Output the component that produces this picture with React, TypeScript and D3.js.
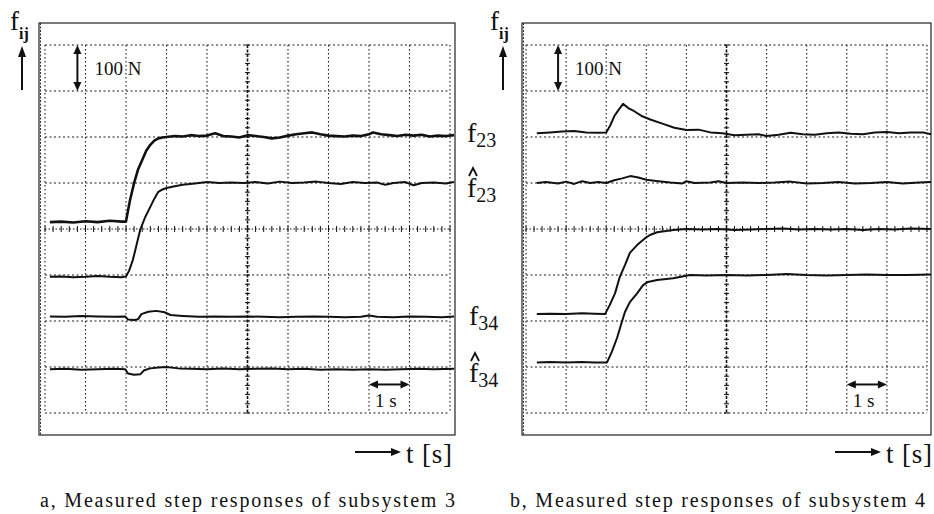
import React from 'react';
import * as d3 from 'd3';

// measured traces, [time in divisions, value in divisions]
const leftF23: [number, number][] = [
  [0.12, 4.15], [0.4, 4.16], [0.7, 4.14], [1.0, 4.17], [1.3, 4.15], [1.6, 4.18], [1.9, 4.16], [2.0, 4.16],
  [2.05, 4.4], [2.1, 4.63], [2.2, 5.0], [2.3, 5.3], [2.4, 5.5], [2.5, 5.7], [2.6, 5.83], [2.7, 5.92],
  [2.8, 5.97], [2.9, 5.99], [3.0, 6.0], [3.2, 6.02], [3.4, 6.01], [3.6, 6.04], [3.8, 6.02], [4.0, 6.03],
  [4.2, 6.08], [4.4, 6.02], [4.6, 6.01], [4.8, 5.99], [5.0, 6.04], [5.2, 6.02], [5.4, 6.0], [5.6, 5.97],
  [5.8, 5.99], [6.0, 6.03], [6.2, 6.06], [6.4, 6.08], [6.6, 6.1], [6.8, 6.06], [7.0, 6.03], [7.2, 6.02],
  [7.4, 6.01], [7.6, 6.03], [7.8, 6.02], [8.0, 6.06], [8.1, 6.1], [8.3, 6.06], [8.5, 6.04], [8.7, 6.02],
  [8.9, 6.05], [9.1, 6.03], [9.3, 6.05], [9.5, 6.01], [9.7, 6.03], [9.9, 6.02], [10.1, 6.04],
];
const leftF23Hat: [number, number][] = [
  [0.12, 2.96], [0.4, 2.97], [0.7, 2.95], [1.0, 2.96], [1.3, 2.98], [1.6, 2.96], [1.9, 2.95], [2.0, 2.97],
  [2.08, 3.1], [2.17, 3.33], [2.26, 3.65], [2.35, 3.98], [2.47, 4.25], [2.6, 4.48], [2.7, 4.66], [2.79, 4.8],
  [2.9, 4.86], [3.0, 4.89], [3.2, 4.93], [3.4, 4.96], [3.7, 4.99], [4.0, 5.02], [4.3, 5.0], [4.6, 5.01],
  [4.9, 5.0], [5.2, 5.02], [5.5, 4.99], [5.8, 5.03], [6.1, 5.0], [6.4, 5.01], [6.7, 5.03], [7.0, 5.0],
  [7.3, 4.98], [7.6, 5.02], [7.9, 5.0], [8.2, 5.01], [8.4, 4.96], [8.6, 5.0], [8.9, 5.02], [9.1, 4.95],
  [9.3, 5.0], [9.6, 5.01], [9.9, 4.99], [10.1, 5.02],
];
const leftF34: [number, number][] = [
  [0.12, 2.1], [0.5, 2.09], [0.9, 2.11], [1.3, 2.1], [1.7, 2.09], [1.98, 2.1], [2.05, 2.03], [2.2, 2.02],
  [2.3, 2.04], [2.38, 2.15], [2.55, 2.2], [2.75, 2.22], [2.95, 2.19], [3.1, 2.13], [3.4, 2.11], [3.8, 2.09],
  [4.2, 2.1], [4.6, 2.09], [5.0, 2.1], [5.4, 2.09], [5.8, 2.08], [6.2, 2.09], [6.6, 2.1], [7.0, 2.09],
  [7.4, 2.08], [7.8, 2.09], [8.0, 2.12], [8.2, 2.09], [8.6, 2.08], [9.0, 2.1], [9.4, 2.09], [9.8, 2.08],
  [10.1, 2.1],
];
const leftF34Hat: [number, number][] = [
  [0.12, 0.95], [0.5, 0.96], [0.9, 0.94], [1.3, 0.95], [1.7, 0.96], [1.98, 0.95], [2.05, 0.86], [2.2, 0.83],
  [2.35, 0.84], [2.45, 0.93], [2.6, 0.97], [2.8, 0.99], [3.0, 1.0], [3.3, 0.97], [3.6, 0.96], [4.0, 0.95],
  [4.4, 0.97], [4.8, 0.95], [5.2, 0.96], [5.6, 0.97], [6.0, 0.95], [6.4, 0.96], [6.8, 0.94], [7.2, 0.95],
  [7.6, 0.94], [8.0, 0.95], [8.4, 0.94], [8.8, 0.95], [9.2, 0.96], [9.6, 0.95], [10.1, 0.96],
];

const rightF23: [number, number][] = [
  [0.27, 6.08], [0.6, 6.1], [0.9, 6.12], [1.2, 6.13], [1.5, 6.1], [1.8, 6.09], [2.0, 6.1], [2.1, 6.25],
  [2.2, 6.45], [2.3, 6.58], [2.42, 6.72], [2.55, 6.63], [2.7, 6.56], [2.9, 6.45], [3.1, 6.38], [3.4, 6.29],
  [3.7, 6.2], [4.0, 6.15], [4.3, 6.16], [4.6, 6.1], [4.9, 6.08], [5.2, 6.04], [5.5, 6.05], [5.8, 6.06],
  [6.0, 6.02], [6.3, 6.05], [6.6, 6.09], [6.9, 6.06], [7.2, 6.05], [7.5, 6.08], [7.8, 6.1], [8.1, 6.07],
  [8.4, 6.06], [8.7, 6.1], [9.0, 6.11], [9.3, 6.08], [9.6, 6.1], [9.9, 6.1], [10.1, 6.06],
];
const rightF23Hat: [number, number][] = [
  [0.27, 5.0], [0.5, 5.02], [0.8, 4.99], [1.0, 5.03], [1.2, 4.98], [1.4, 5.04], [1.6, 5.0], [1.8, 5.02],
  [2.0, 5.0], [2.2, 5.06], [2.4, 5.1], [2.6, 5.15], [2.8, 5.12], [3.0, 5.07], [3.3, 5.04], [3.6, 5.01],
  [3.9, 4.99], [4.0, 5.04], [4.2, 5.0], [4.6, 5.01], [4.8, 5.04], [5.0, 5.0], [5.4, 5.01], [5.8, 5.0],
  [6.2, 5.01], [6.6, 5.03], [7.0, 4.99], [7.4, 5.0], [7.8, 5.02], [8.2, 4.99], [8.6, 5.0], [9.0, 5.02],
  [9.4, 4.99], [9.8, 5.01], [10.1, 5.02],
];
const rightF34: [number, number][] = [
  [0.27, 2.15], [0.6, 2.16], [1.0, 2.15], [1.4, 2.17], [1.7, 2.16], [1.97, 2.15], [2.09, 2.35], [2.22, 2.6],
  [2.34, 2.96], [2.47, 3.22], [2.59, 3.48], [2.77, 3.65], [2.97, 3.8], [3.09, 3.87], [3.27, 3.93], [3.67, 3.98],
  [4.0, 4.0], [4.4, 3.99], [4.8, 4.0], [5.2, 3.98], [5.6, 3.99], [6.0, 4.0], [6.4, 4.01], [6.8, 3.99],
  [7.2, 4.0], [7.6, 3.99], [8.0, 4.0], [8.4, 3.98], [8.8, 4.0], [9.2, 3.99], [9.6, 4.01], [10.1, 4.0],
];
const rightF34Hat: [number, number][] = [
  [0.27, 1.1], [0.6, 1.11], [1.0, 1.1], [1.4, 1.11], [1.7, 1.1], [2.02, 1.1], [2.14, 1.33], [2.27, 1.63],
  [2.39, 1.98], [2.47, 2.2], [2.59, 2.41], [2.77, 2.6], [2.92, 2.78], [3.04, 2.85], [3.27, 2.89], [3.67, 2.93],
  [4.09, 3.0], [4.5, 2.99], [5.0, 3.0], [5.5, 2.99], [6.0, 3.0], [6.5, 3.02], [7.0, 3.0], [7.5, 2.99],
  [8.0, 3.0], [8.5, 3.01], [9.0, 3.0], [9.5, 3.0], [10.1, 3.01],
];

const captions = ['a, Measured step responses of subsystem 3', 'b, Measured step responses of subsystem 4'];
const xDivisions = d3.range(0, 11);
const yDivisions = d3.range(0, 9);

const FONT = '"Liberation Serif", "Times New Roman", serif';
const GRID_TOP = 45;
const GRID_BOTTOM = 413;

const panels = [
  { gx0: 45, gx1: 450, fx0: 39, fx1: 455, fijX: 10, arrowX: 22, traces: [leftF23, leftF23Hat, leftF34, leftF34Hat], widths: [2.6, 2, 2, 2], tx: 355, cap: captions[0], capX: 40 },
  { gx0: 526, gx1: 927, fx0: 522, fx1: 931, fijX: 490, arrowX: 503, traces: [rightF23, rightF23Hat, rightF34, rightF34Hat], widths: [2, 2, 2, 2], tx: 835, cap: captions[1], capX: 510 },
];

const y = d3.scaleLinear().domain([0, 8]).range([GRID_BOTTOM, GRID_TOP]);

const Panel = ({ p }: { p: typeof panels[number] }) => {
  const x = d3.scaleLinear().domain([0, 10]).range([p.gx0, p.gx1]);
  const line = d3.line<[number, number]>().x(d => x(d[0])).y(d => y(d[1])).curve(d3.curveLinear);
  const cx = x(5);
  const cy = y(4);
  const arrowY = y(0.62);
  return (
    <g>
      {/* outer frame */}
      <rect x={p.fx0} y={23} width={p.fx1 - p.fx0} height={435 - 23} fill="none" stroke="#222" strokeWidth={1.2} />
      <line x1={p.fx0 + 1.5} x2={p.fx0 + 1.5} y1={23} y2={435} stroke="#333" strokeWidth={1} strokeDasharray="2,1.5" />
      {/* grid */}
      {xDivisions.filter(d => d !== 5).map(d => (
        <line key={'v' + d} x1={x(d)} x2={x(d)} y1={GRID_TOP} y2={GRID_BOTTOM} stroke="#1a1a1a" strokeWidth={1.1} strokeDasharray="1.5,2.5" />
      ))}
      {yDivisions.filter(d => d !== 4).map(d => (
        <line key={'h' + d} x1={p.gx0} x2={p.gx1} y1={y(d)} y2={y(d)} stroke="#1a1a1a" strokeWidth={1.1} strokeDasharray="2,2.5" />
      ))}
      <line x1={cx} x2={cx} y1={GRID_TOP} y2={GRID_BOTTOM} stroke="#111" strokeWidth={1.6} strokeDasharray="3,1.5" />
      {d3.range(0, 8.01, 0.2).map(v => (
        <line key={'ct' + v} x1={cx - 2.5} x2={cx + 2.5} y1={y(v)} y2={y(v)} stroke="#111" strokeWidth={1} />
      ))}
      <line x1={p.gx0} x2={p.gx1} y1={cy} y2={cy} stroke="#111" strokeWidth={1.2} strokeDasharray="1.5,2" />
      {d3.range(0, 10.01, 0.2).map(t => (
        <line key={'ht' + t} x1={x(t)} x2={x(t)} y1={cy - 3} y2={cy + 3} stroke="#111" strokeWidth={1} />
      ))}
      {/* traces */}
      {p.traces.map((tr, i) => (
        <path key={i} d={line(tr) || ''} fill="none" stroke="#111" strokeWidth={p.widths[i]} strokeLinejoin="round" />
      ))}
      {/* 100 N marker */}
      <line x1={x(0.8)} x2={x(0.8)} y1={y(8) + 5} y2={y(7) - 5} stroke="#111" strokeWidth={2} />
      <path d={`M${x(0.8)},${y(8)} l-4,9 l8,0 Z`} fill="#111" />
      <path d={`M${x(0.8)},${y(7)} l-4,-9 l8,0 Z`} fill="#111" />
      <text x={x(0.8) + 17} y={75} fontFamily={FONT} fontSize={19} fill="#111">100 N</text>
      {/* 1 s marker */}
      <line x1={x(8) + 5} x2={x(9) - 5} y1={arrowY} y2={arrowY} stroke="#111" strokeWidth={2} />
      <path d={`M${x(8)},${arrowY} l9,-4 l0,8 Z`} fill="#111" />
      <path d={`M${x(9)},${arrowY} l-9,-4 l0,8 Z`} fill="#111" />
      <text x={x(8) + 6} y={407} fontFamily={FONT} fontSize={19} fill="#111">1 s</text>
      {/* f_ij axis label */}
      <text x={p.fijX} y={30} fontFamily={FONT} fontSize={27} fill="#111">
        f<tspan fontSize={16} fontWeight="bold" dy={9}>ij</tspan>
      </text>
      <line x1={p.arrowX} x2={p.arrowX} y1={90} y2={55} stroke="#111" strokeWidth={2} />
      <path d={`M${p.arrowX},${46} l-4,11 l8,0 Z`} fill="#111" />
      {/* time axis label */}
      <line x1={p.tx} x2={p.tx + 38} y1={452} y2={452} stroke="#111" strokeWidth={1.8} />
      <path d={`M${p.tx + 46},452 l-10,-4 l0,8 Z`} fill="#111" />
      <text x={p.tx + 51} y={463} fontFamily={FONT} fontSize={27} fill="#111" textLength={46} lengthAdjust="spacing">t [s]</text>
      {/* caption */}
      <text x={p.capX} y={507} fontFamily={FONT} fontSize={20} fill="#111" textLength={415} lengthAdjust="spacing">{p.cap}</text>
    </g>
  );
};

const SignalLabel = ({ x0, base, sub, hat }: { x0: number; base: number; sub: string; hat: boolean }) => (
  <g>
    {hat && <path d={`M${x0 + 2},${base - 21} l4,-8 l4,8`} fill="none" stroke="#111" strokeWidth={1.8} />}
    <text x={x0} y={base} fontFamily={FONT} fontSize={28} fill="#111">
      f<tspan fontSize={20} dy={5}>{sub}</tspan>
    </text>
  </g>
);

const signalLabels = [
  { x0: 467, base: 142, sub: '23', hat: false },
  { x0: 467, base: 197, sub: '23', hat: true },
  { x0: 469, base: 325, sub: '34', hat: false },
  { x0: 469, base: 382, sub: '34', hat: true },
];

export default function App() {
  return (
    <svg width={934} height={514} style={{ position: 'absolute', left: 0, top: 0, background: '#fff' }}>
      <rect width={934} height={514} fill="#fff" />
      {panels.map((p, i) => <Panel key={i} p={p} />)}
      {signalLabels.map((l, i) => <SignalLabel key={i} {...l} />)}
    </svg>
  );
}
